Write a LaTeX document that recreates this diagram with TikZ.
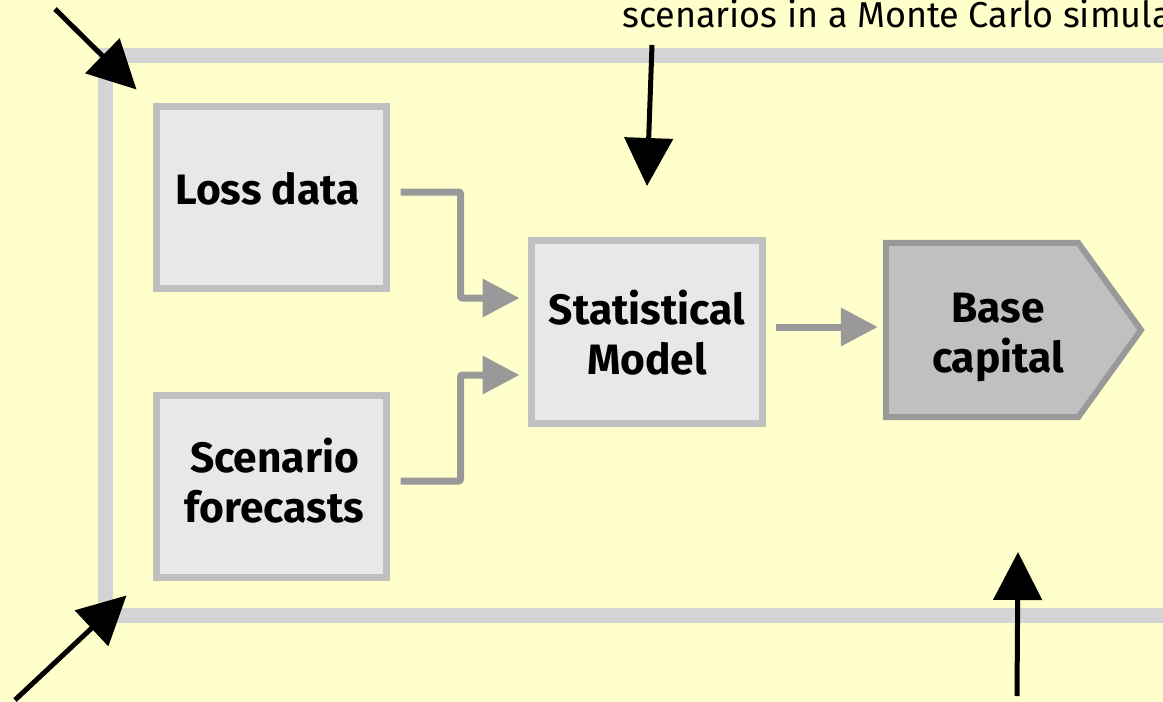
\documentclass[tikz,border=0pt]{standalone}
\usepackage{fontspec}
\setmainfont{Fira Sans}
\usetikzlibrary{arrows.meta,calc}
\definecolor{bgc}{HTML}{FFFFCC}
\definecolor{framec}{HTML}{D4D4D4}
\definecolor{boxline}{HTML}{C0C0C0}
\definecolor{boxfill}{HTML}{E8E8E8}
\definecolor{basefill}{HTML}{C0C0C0}
\definecolor{connc}{HTML}{999999}
\begin{document}
\begin{tikzpicture}[x=1pt,y=-1pt,
  boxnode/.style={draw=boxline, fill=boxfill, line width=7pt, minimum width=230pt, minimum height=182pt, inner sep=0pt, shape=rectangle},
  lbl/.style={font=\bfseries\fontsize{42.5}{50}\selectfont, align=center, inner sep=0pt},
  conn/.style={draw=connc, line width=7pt, rounded corners=2pt, -{Triangle[length=37pt,width=37pt]}},
  bigarrow/.style={draw=black, line width=5pt, -{Triangle[length=48pt,width=48pt]}},
  framestyle/.style={draw=framec, line width=15pt, line join=miter}]
\fill[bgc] (0,0) rectangle (1163,702);
\useasboundingbox (0,0) rectangle (1163,702);
\clip (0,0) rectangle (1163,702);
% frame
\draw[framestyle] (1190,55.5) -- (105.5,55.5) -- (105.5,615) -- (1190,615);
% boxes
\node[boxnode] (loss) at (271.5,197.5) {};
\node[lbl] (lossT) at ([xshift=-4pt,yshift=9pt]loss.center) {Loss data};
\node[boxnode] (scen) at (271.5,486) {};
\node[lbl] (scenT) at ([xshift=3pt,yshift=5pt]scen.center) {Scenario\\forecasts};
\node[boxnode, minimum width=231pt, minimum height=183pt] (stat) at (647,332) {};
\node[lbl] (statT) at ([yshift=-1pt]stat.center) {Statistical\\Model};
% base capital
\node[inner sep=0pt, minimum width=192pt, minimum height=174pt] (base) at (982,330) {};
\draw[draw=connc, fill=basefill, line width=6pt, line join=miter]
  (base.north west) -- (base.north east) -- (1141,330) -- (base.south east) -- (base.south west) -- cycle;
\node[lbl] (baseT) at ([xshift=16pt,yshift=-7pt]base.center) {Base\\capital};
% connectors
\coordinate (e1) at ([xshift=-8.5pt,yshift=34pt]stat.west);
\coordinate (e2) at ([xshift=-8.5pt,yshift=-43pt]stat.west);
\draw[conn] ([xshift=10.5pt,yshift=5.5pt]loss.east) -| ([xshift=-59pt]e1) -- (e1);
\draw[conn] ([xshift=10.5pt,yshift=5pt]scen.east) -| ([xshift=-59pt]e2) -- (e2);
\coordinate (s3) at ([xshift=9.5pt,yshift=5pt]stat.east);
\draw[conn] (s3) -- ($(s3 -| base.west)+(-8,0)$);
% outside arrows
\coordinate (a1) at (55,9);
\coordinate (a2) at (15,700);
\coordinate (a3) at (652,45);
\coordinate (a4) at (1017,696);
\draw[bigarrow] (a1) -- ([xshift=-16.5pt,yshift=13.5pt]loss.north west);
\draw[bigarrow] (a2) -- ([xshift=-26.5pt,yshift=-15pt]scen.south west);
\draw[bigarrow] (a3) -- ([yshift=51pt]stat.north);
\draw[bigarrow] (a4) -- (1018,552);
% top text
\node[anchor=base west, inner sep=0pt, font=\fontsize{36}{42}\selectfont] (topT) at (622,27) {scenarios in a Monte Carlo simula};
\end{tikzpicture}
\end{document}
